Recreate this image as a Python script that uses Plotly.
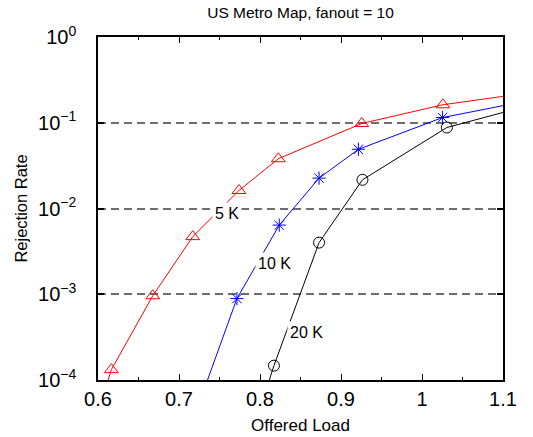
import numpy as np
import plotly.graph_objects as go

# Rejection rate vs offered load for three capacities (US Metro Map, fanout = 10).
# The first and last point of each series lie just outside the plotted window.
load_5k = [0.595, 0.6165, 0.6676, 0.717, 0.774, 0.8226, 0.9256, 1.0258, 1.128]
rate_5k = [3.0e-5, 1.32e-4, 9.6e-4, 4.7e-3, 1.62e-2, 3.8e-2, 9.8e-2, 0.162, 0.221]

load_10k = [0.72, 0.7715, 0.8238, 0.8729, 0.9215, 1.0254, 1.13]
rate_10k = [4.0e-5, 8.9e-4, 6.4e-3, 2.26e-2, 4.9e-2, 0.115, 0.18]

load_20k = [0.80, 0.8172, 0.8729, 0.9265, 1.0307, 1.13]
rate_20k = [4.6e-5, 1.47e-4, 4.0e-3, 2.16e-2, 0.088, 0.157]

x_ticks = [0.6, 0.7, 0.8, 0.9, 1.0, 1.1]
y_ticks = [1e-4, 1e-3, 1e-2, 1e-1, 1e0]
y_tick_text = ["10<sup>−4</sup>", "10<sup>−3</sup>", "10<sup>−2</sup>",
               "10<sup>−1</sup>", "10<sup>0</sup>"]

FONT = "Liberation Sans, Arial, sans-serif"

fig = go.Figure()

series = [
    (load_5k, rate_5k, "#ff0000", "triangle-up-open", 12),
    (load_10k, rate_10k, "#0000ff", "asterisk-open", 11),
    (load_20k, rate_20k, "#000000", "circle-open", 11),
]
for xs, ys, color, symbol, size in series:
    fig.add_trace(go.Scatter(
        x=xs, y=ys, mode="lines+markers",
        line=dict(color=color, width=1),
        marker=dict(symbol=symbol, size=size, color=color,
                    line=dict(color=color, width=1)),
        showlegend=False,
    ))

# In-plot curve labels on a white box that breaks the curve and the grid
labels = [("5 K", 0.759, 8.7e-3), ("10 K", 0.818, 2.3e-3), ("20 K", 0.858, 3.6e-4)]
for text, lx, ly in labels:
    fig.add_annotation(
        x=lx, y=np.log10(ly), xref="x", yref="y", text=text, showarrow=False,
        bgcolor="white", borderpad=2,
        font=dict(family=FONT, size=16, color="black"),
    )

fig.update_layout(
    width=533, height=437,
    margin=dict(l=98, r=30, t=37, b=57),
    paper_bgcolor="white", plot_bgcolor="white",
    font=dict(family=FONT, color="black"),
    title=dict(text="US Metro Map, fanout = 10", x=0.5, xref="paper",
               y=1 - 13 / 437, yref="container", yanchor="middle",
               font=dict(size=15.5, family=FONT, color="black")),
)

fig.update_xaxes(
    range=[0.6, 1.1], tickvals=x_ticks, ticks="inside", ticklen=6,
    tickcolor="black", tickwidth=1,
    minor=dict(dtick=0.05, tick0=0.6, ticks="inside", ticklen=3,
               tickcolor="black", showgrid=False),
    showgrid=False, zeroline=False, automargin=False,
    showline=True, linecolor="black", linewidth=1.5, mirror="ticks",
    tickfont=dict(size=20, family=FONT, color="black"),
    ticklabelstandoff=0,
    title=dict(text="Offered Load", font=dict(size=17, family=FONT, color="black"),
               standoff=10),
)

fig.update_yaxes(
    type="log", range=[-4, 0], tickvals=y_ticks, ticktext=y_tick_text,
    ticks="inside", ticklen=6, tickcolor="black", tickwidth=1.5,
    showgrid=True, gridcolor="#6e6e6e", gridwidth=1.5, griddash="8px,5px",
    zeroline=False, automargin=False,
    showline=True, linecolor="black", linewidth=1.5, mirror="ticks",
    tickfont=dict(size=20, family=FONT, color="black"),
    ticklabelstandoff=16,
    title=dict(text="Rejection Rate", font=dict(size=16.5, family=FONT, color="black"),
               standoff=6),
)

fig.write_html("out.html")
